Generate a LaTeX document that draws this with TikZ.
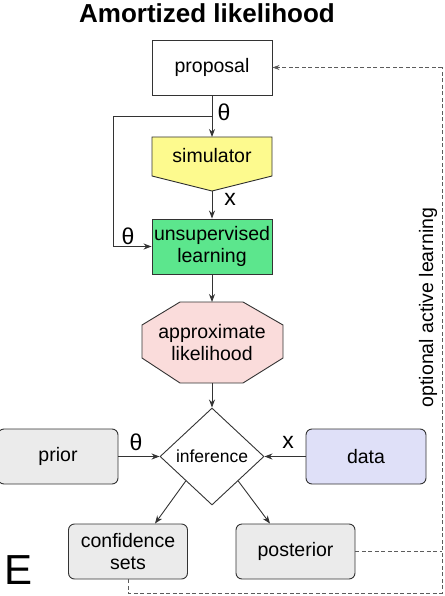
\documentclass[tikz,border=0pt]{standalone}
\usepackage{fontspec}
\setmainfont{Liberation Sans}
\usetikzlibrary{shapes.geometric,arrows.meta,calc}
\definecolor{simyellow}{HTML}{FDFA8E}
\definecolor{learngreen}{HTML}{5CE68D}
\definecolor{likepink}{HTML}{FADCDB}
\definecolor{boxgray}{HTML}{EBEBEB}
\definecolor{datablue}{HTML}{DFE0F8}
\definecolor{edge}{HTML}{333333}

\begin{document}
\begin{tikzpicture}[x=1pt,y=-1pt,
  txt/.style={font=\fontsize{19.5}{22.5}\selectfont, align=center, text=black},
  plainbox/.style={draw=edge, line width=0.9pt, minimum width=120pt,
    minimum height=55pt, inner sep=0pt, txt},
  roundbox/.style={plainbox, rounded corners=6pt, fill=boxgray},
  shapeline/.style={draw=edge, line width=0.9pt},
  link/.style={draw=edge, line width=0.9pt, -{Stealth[length=8pt,width=6pt]}},
  loopline/.style={draw=edge!80, line width=0.8pt, dash pattern=on 4pt off 2.5pt},
  sym/.style={font=\fontsize{23}{25}\selectfont, inner sep=0pt}]
\useasboundingbox (0,0) rectangle (444,596);

% title
\node[font=\bfseries\fontsize{26}{28}\selectfont, anchor=base] (title) at (207,23) {Amortized likelihood};

% proposal
\node[plainbox, fill=white] (proposal) at (212,67.5) {proposal};

% simulator (pentagon pointing down)
\coordinate (simtop) at (212,137);
\coordinate (simtip) at (212,191);
\filldraw[shapeline, fill=simyellow, line join=miter]
  (152,137) -- (272,137) -- (272,176) -- (simtip) -- (152,176) -- cycle;
\node[txt] (sim) at (212,156) {simulator};

% unsupervised learning
\node[plainbox, fill=learngreen] (learn) at (212,246.5) {unsupervised\\learning};

% approximate likelihood (octagon)
\coordinate (octtop) at (212,302);
\coordinate (octbot) at (212,383);
\filldraw[shapeline, fill=likepink]
  (180,302) -- (243,302) -- (283,325) -- (283,358) -- (243,383)
  -- (180,383) -- (142,358) -- (142,325) -- cycle;
\node[txt] (approx) at (212,342.5) {approximate\\likelihood};

% inference
\node[diamond, shapeline, fill=white, minimum width=104pt, minimum height=97pt,
  inner sep=0pt, font=\fontsize{17.5}{20}\selectfont] (infer) at (212,456.5) {inference};

% prior, data, outputs
\node[roundbox] (prior) at (58,456.5) {prior};
\node[roundbox, fill=datablue] (data) at (366,456.5) {data};
\node[roundbox, minimum width=119pt] (conf) at (128,551.5) {confidence\\sets};
\node[roundbox, minimum width=119pt] (post) at (295.5,551.5) {posterior};

% main flow
\coordinate (split) at (212,116);
\coordinate (bendtop) at (113,116);
\draw[link] (proposal.south) -- (simtop);
\draw[link] (split) -- (bendtop) |- (learn.west);
\draw[link] (simtip) -- (learn.north);
\draw[link] (learn.south) -- (octtop);
\draw[link] (octbot) -- (infer.north);
\draw[link] (prior.east) -- (infer.west);
\draw[link] (data.west) -- (infer.east);
\draw[link] (infer.south west) -- ($(conf.north)+(27,0)$);
\draw[link] (infer.south east) -- ($(post.north)+(-25.5,0)$);

% edge labels
\node[sym] (thA) at (224,112) {θ};
\node[sym] (thB) at (128,236) {θ};
\node[sym] (xA) at (230,199) {x};
\node[sym] (thC) at (136,442) {θ};
\node[sym] (xB) at (288,442) {x};

% optional active learning loop
\coordinate (loopbr) at (442,593);
\coordinate (looptr) at (442,67.5);
\draw[loopline] (conf.south) |- (loopbr) -- (looptr);
\draw[loopline, -{Stealth[length=7pt,width=5pt]}] (looptr) -- (proposal.east);
\draw[loopline] (post.east) -- (post.east -| loopbr);
\node[txt, rotate=90] (looplabel) at (428,307.5) {optional active learning};

% panel letter
\node[font=\fontsize{42}{44}\selectfont, anchor=base west, inner sep=0pt] (panel) at (4,584) {E};
\end{tikzpicture}
\end{document}
